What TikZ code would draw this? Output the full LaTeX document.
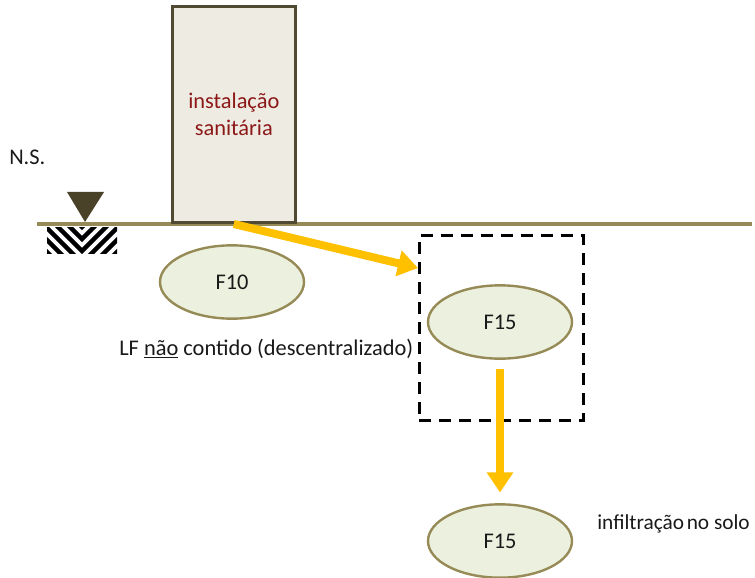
\documentclass[tikz,border=0pt]{standalone}
\usepackage{fontspec}
\setmainfont{Carlito}
\usepackage{xcolor}
\usetikzlibrary{shapes.geometric,arrows.meta}
\definecolor{groundcol}{RGB}{150,139,86}
\definecolor{boxfill}{RGB}{238,236,226}
\definecolor{boxline}{RGB}{80,74,50}
\definecolor{redtxt}{RGB}{140,24,24}
\definecolor{pitfill}{RGB}{235,241,222}
\definecolor{flowcol}{RGB}{255,192,0}
\definecolor{markcol}{RGB}{73,66,40}
\definecolor{txtcol}{RGB}{25,25,25}

\begin{document}
\begin{tikzpicture}[x=0.75pt,y=-0.75pt]
\tikzstyle{every node}+=[font=\fontsize{16.8}{20}\selectfont, text=txtcol]
\tikzstyle{pit}=[ellipse, draw=groundcol, fill=pitfill, line width=1.8pt, minimum width=108pt, minimum height=55pt, inner sep=0pt]
\tikzstyle{flow}=[draw=flowcol, line width=6pt, -{Triangle[width=19pt,length=15pt]}, flowcol]
\tikzstyle{label}=[anchor=west, inner sep=0pt]
\useasboundingbox (0,0) rectangle (755,577);
% ground level
\draw [groundcol, line width=3pt] (37,224) -- (752,224);
\begin{scope}
\clip (47,227) rectangle (117,253);
\foreach \k in {0,12,...,84}
  \draw [black, line width=3.2pt] (32,227+\k-50) -- (82,227+\k) -- (132,227+\k-50);
\end{scope}
\fill [markcol] (67,192) -- (104,192) -- (85,222) -- cycle;
\node [label] (ns) at (9,157) {N.S.};
% sanitary unit
\node [draw=boxline, fill=boxfill, line width=2.2pt, anchor=south west, minimum width=92pt, minimum height=162pt, align=center, text=redtxt] (box) at (171,224) {instalação\\sanitária};
% pits
\node [pit] (f10) at (232,282) {F10};
\node [draw=black, line width=2.2pt, dash pattern=on 9pt off 6pt, minimum width=123pt, minimum height=139pt, anchor=north west] (zone) at (418,234) {};
\node [pit] (f15a) at (500,322) {F15};
\node [pit] (f15b) at (500,541) {F15};
\coordinate (in) at (418,268);
% labels
\node [label] (lf) at (119,349) {LF \underline{não} contido (descentralizado)};
\node [label, font=\fontsize{16}{19}\selectfont] (inf) at (597,524) {infiltração\hspace{2pt}no solo};
% flows
\draw [flow] (box.south) -- (in);
\draw [flow, shorten <=7pt, shorten >=8pt] (f15a) -- (f15b);
\end{tikzpicture}
\end{document}
